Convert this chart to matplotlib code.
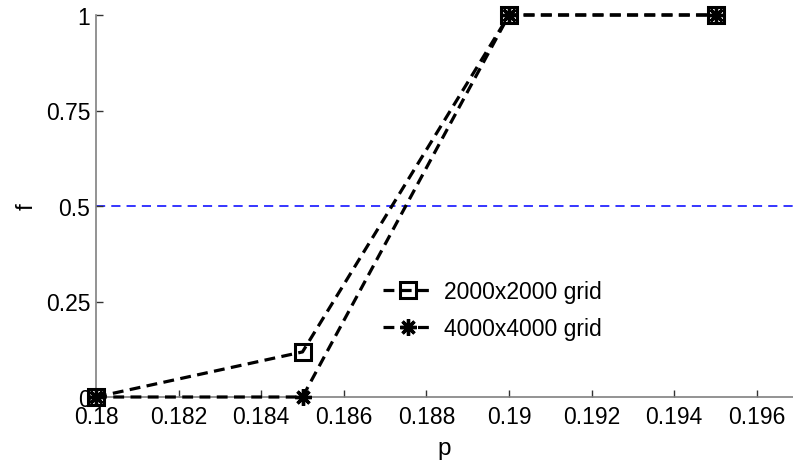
import matplotlib
matplotlib.use('Agg')
import matplotlib.pyplot as plt

# Data
p = [0.18, 0.185, 0.19, 0.195]
f_2000 = [0.0, 0.118, 1.0, 1.0]
f_4000 = [0.0, 0.0, 1.0, 1.0]
x_ticks = [0.18, 0.182, 0.184, 0.186, 0.188, 0.19, 0.192, 0.194, 0.196]
x_tick_labels = ['0.18', '0.182', '0.184', '0.186', '0.188', '0.19', '0.192', '0.194', '0.196']
y_ticks = [0, 0.25, 0.5, 0.75, 1]
y_tick_labels = ['0', '0.25', '0.5', '0.75', '1']
threshold = 0.5

plt.rcParams['font.family'] = ['Liberation Sans', 'DejaVu Sans']
FS = 16.5

fig = plt.figure(figsize=(7.93, 4.64), dpi=100)
ax = fig.add_axes([96 / 793, 1 - 398 / 464, 1 - 96 / 793, (398 - 16) / 464])

ax.axhline(threshold, color='#0000ff', lw=1.1, ls=(0, (6, 4)), zorder=1)

ax.plot(p, f_2000, color='black', lw=2.3, ls=(0, (3.4, 2.0)), marker='s',
        ms=11, mfc='none', mec='black', mew=2.2, label='2000x2000 grid',
        zorder=3, clip_on=False)
ax.plot(p, f_4000, color='black', lw=2.3, ls=(0, (3.4, 2.0)), marker=(8, 2, 0),
        ms=12, mec='black', mew=2.4, label='4000x4000 grid',
        zorder=3, clip_on=False)

ax.set_xlim(0.18, 0.18 + (793 - 96) / 41300)
ax.set_ylim(0, 1)
ax.set_xticks(x_ticks)
ax.set_xticklabels(x_tick_labels)
ax.set_yticks(y_ticks)
ax.set_yticklabels(y_tick_labels)

for s in ['top', 'right']:
    ax.spines[s].set_visible(False)
for s in ['left', 'bottom']:
    ax.spines[s].set_color('#808080')
    ax.spines[s].set_linewidth(1.2)
ax.tick_params(direction='in', length=5, width=1, color='#333333',
               labelsize=FS)
ax.tick_params(axis='x', pad=6)
ax.tick_params(axis='y', pad=4)
ax.patch.set_alpha(0)

ax.set_xlabel('p', fontsize=FS + 1, labelpad=6)
ax.set_ylabel('f', fontsize=FS + 1, labelpad=6)

leg = ax.legend(loc='upper left', bbox_to_anchor=(383 / 793, 1 - 281 / 464),
                bbox_transform=fig.transFigure, borderaxespad=0, borderpad=0,
                frameon=False, fontsize=FS, handlelength=2.2, handletextpad=0.45,
                labelspacing=0.62)

fig.savefig('out.png', dpi=100)
